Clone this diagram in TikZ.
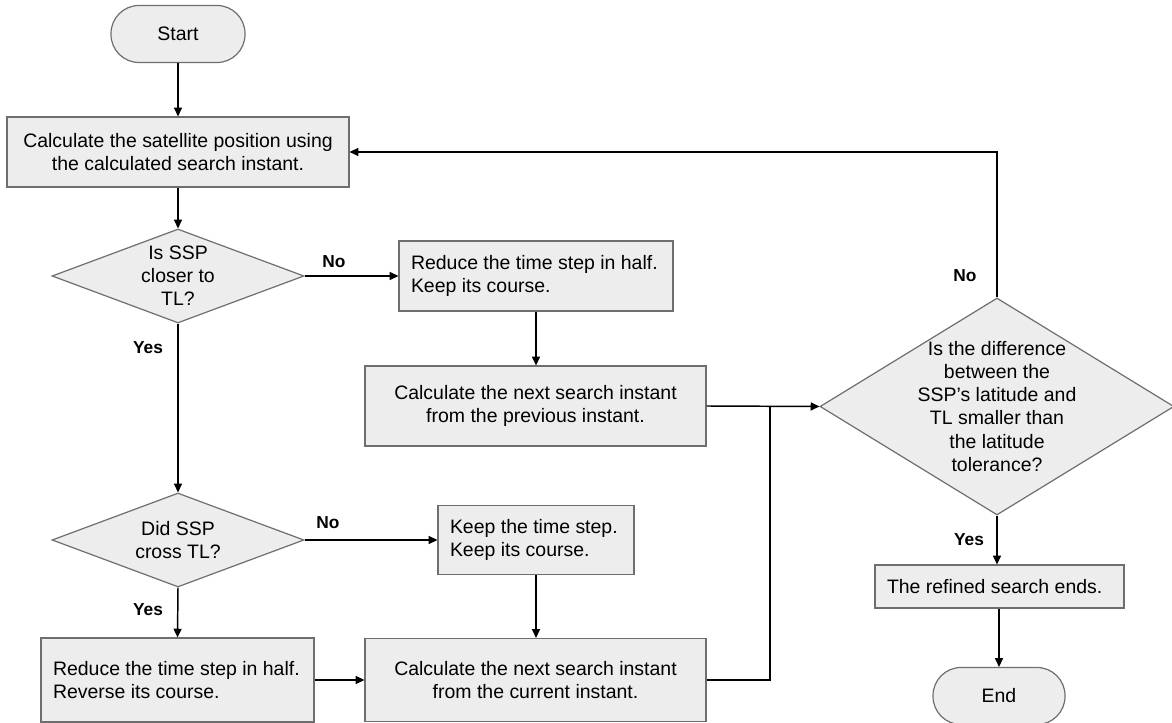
\documentclass[tikz,border=0pt]{standalone}
\usepackage{fontspec}
\setmainfont{Liberation Sans}
\usetikzlibrary{shapes.geometric,arrows.meta}
\definecolor{boxfill}{HTML}{EDEDED}
\definecolor{boxline}{HTML}{6E6E6E}
\begin{document}
\begin{tikzpicture}[x=0.75pt,y=-0.75pt,
  every node/.style={font=\fontsize{14.6pt}{17.3pt}\selectfont},
  box/.style={draw=boxline, fill=boxfill, line width=0.9pt, rectangle, inner sep=0pt},
  lbox/.style={box, align=flush left, inner xsep=9pt},
  term/.style={box, rounded corners=21pt, minimum width=100.5pt, minimum height=42.75pt},
  dia/.style={draw=boxline, fill=boxfill, line width=0.9pt, diamond, inner sep=0pt},
  txt/.style={align=center, inner sep=0pt},
  lbl/.style={font=\bfseries\fontsize{13pt}{15pt}\selectfont, inner sep=0pt},
  arr/.style={draw, line width=1.1pt, -{Triangle[length=6.5pt,width=6pt]}},
  ln/.style={draw, line width=1.1pt}]
\useasboundingbox (0,0) rectangle (1172,723);

% nodes
\node[term] (start) at (178,34) {Start};
\node[box, minimum width=256.5pt, minimum height=52.5pt, align=center] (calc) at (178,152)
  {Calculate the satellite position using\\the calculated search instant.};
\node[dia, minimum width=189pt, minimum height=70.5pt] (d1) at (178,276) {};
\node[txt] (d1t) at (d1.center) {Is SSP\\closer to\\TL?};
\node[lbox, minimum width=205.5pt, minimum height=52.5pt, text width=187.5pt] (half1) at (536,276)
  {Reduce the time step in half.\\Keep its course.};
\node[box, minimum width=255.75pt, minimum height=60pt, align=center] (prev) at (535.5,406)
  {Calculate the next search instant\\from the previous instant.};
\node[dia, minimum width=189pt, minimum height=70.5pt] (d2) at (178,540) {};
\node[txt] (d2t) at (d2.center) {Did SSP\\cross TL?};
\node[lbox, minimum width=147pt, minimum height=51.75pt, text width=129pt] (keep) at (536,540)
  {Keep the time step.\\Keep its course.};
\node[lbox, minimum width=204.75pt, minimum height=63pt, text width=186.75pt] (half2) at (177.5,680)
  {Reduce the time step in half.\\Reverse its course.};
\node[box, minimum width=255.75pt, minimum height=62.25pt, align=center] (curr) at (535.5,680)
  {Calculate the next search instant\\from the current instant.};
\node[dia, minimum width=265.5pt, minimum height=162.75pt] (d3) at (997,406.5) {};
\node[txt] (d3t) at (d3.center) {Is the difference\\between the\\SSP’s latitude and\\TL smaller than\\the latitude\\tolerance?};
\node[lbox, minimum width=186.75pt, minimum height=32.25pt, text width=168.75pt] (ends) at (999.5,586.5)
  {The refined search ends.};
\node[term, minimum width=99pt] (end) at (999,696) {End};
\coordinate (j) at (770,406);

% labels
\node[lbl] (l1) at (334,262) {No};
\node[lbl] (l2) at (148,348) {Yes};
\node[lbl] (l3) at (328,523) {No};
\node[lbl] (l4) at (148,610) {Yes};
\node[lbl] (l5) at (965,276) {No};
\node[lbl] (l6) at (969,540) {Yes};

% connectors
\path[arr] (start) -- (calc);
\path[arr] (calc) -- (d1);
\path[arr] (d1.east) -- (half1.west);
\path[arr] (d1.south) -- (d2.north);
\path[arr] (half1.south) -- (half1.south |- prev.north);
\path[arr] (prev.east) -- (d3.west);
\path[arr] (d2.east) -- (keep.west);
\path[arr] (d2.south) -- (half2.north);
\path[arr] (keep.south) -- (keep.south |- curr.north);
\path[arr] (half2.east) -- (curr.west);
\path[ln] (curr.east) -- (curr.east -| j) -- (j);
\path[arr] (d3.north) |- (calc.east);
\path[arr] (d3.south) -- (d3.south |- ends.north);
\path[arr] (ends.south -| end.north) -- (end.north);
\end{tikzpicture}
\end{document}
